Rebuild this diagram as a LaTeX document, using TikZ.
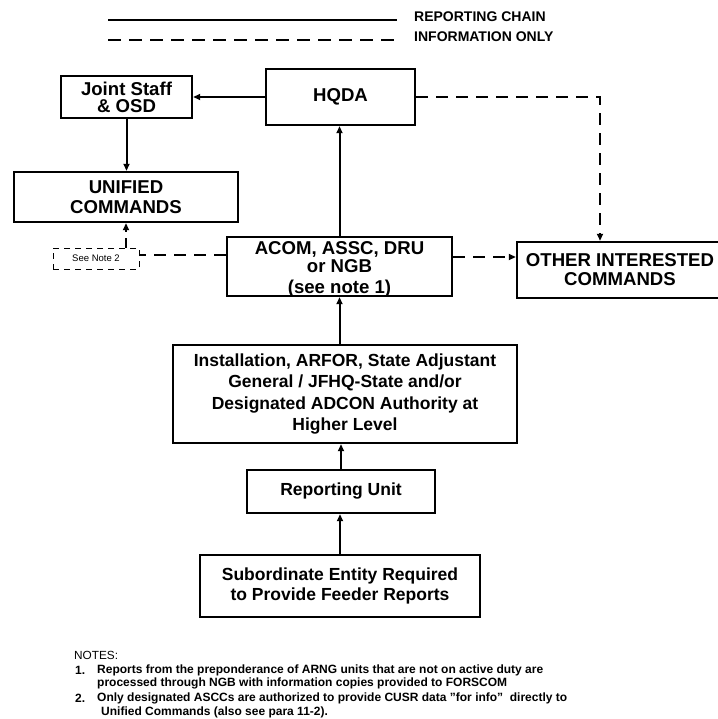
\documentclass[tikz,border=0pt]{standalone}
\usepackage{fontspec}
\setmainfont{Liberation Sans}
\usetikzlibrary{arrows.meta}
\begin{document}
\begin{tikzpicture}[x=1pt,y=-1pt,
  box/.style={draw, line width=2.4pt, align=center, inner sep=0pt,
    font=\bfseries\fontsize{17.5}{21.5}\selectfont},
  bigbox/.style={box, font=\bfseries\fontsize{18.6}{21.5}\selectfont},
  rep/.style={line width=2pt, -{Triangle[length=7pt,width=6pt]}},
  infoline/.style={line width=2pt, dash pattern=on 12pt off 8pt},
  info/.style={infoline, -{Triangle[length=7pt,width=6pt]}},
  legendtext/.style={anchor=west, inner sep=0pt, font=\bfseries\fontsize{14}{16}\selectfont},
  notetext/.style={anchor=west, inner sep=0pt, font=\bfseries\fontsize{12}{13}\selectfont},
]
\useasboundingbox (0,0) rectangle (717,719);

% legend
\coordinate (la) at (108,20);
\coordinate (lb) at (397,20);
\coordinate (lc) at (108,40);
\coordinate (ld) at (397,40);
\draw[line width=2pt] (la) -- (lb);
\draw[infoline, dash pattern=on 13pt off 8pt] (lc) -- (ld);
\node[legendtext] (lt1) at (414,17) {REPORTING CHAIN};
\node[legendtext] (lt2) at (414,37) {INFORMATION ONLY};

% boxes
\node[bigbox, minimum width=131pt, minimum height=42pt] (js) at (126.5,97) {Joint Staff\\[-4.5pt]\& OSD};
\node[bigbox, minimum width=149pt, minimum height=56pt] (hqda) at (340.5,97) {HQDA};
\node[bigbox, minimum width=224pt, minimum height=50pt] (uc) at (126,197) {UNIFIED\\[-1.5pt]COMMANDS};
\node[bigbox, minimum width=225pt, minimum height=59pt] (acom) at (339.5,266.5) {};
\node[align=center, inner sep=0pt, font=\bfseries\fontsize{18.6}{21.5}\selectfont] (acomtext) at (339.5,269.5) {ACOM, ASSC, DRU\\[-3.5pt]or NGB\\[0pt](see note 1)};
\node[bigbox, minimum width=206pt, minimum height=56pt] (other) at (620,270) {OTHER INTERESTED\\[-2.5pt]COMMANDS};
\node[box, minimum width=344pt, minimum height=98pt] (inst) at (345,394) {Installation, ARFOR, State Adjustant\\General / JFHQ-State and/or\\Designated ADCON Authority at\\Higher Level};
\node[box, minimum width=188pt, minimum height=43pt] (ru) at (341,491.5) {Reporting Unit};
\node[box, minimum width=280pt, minimum height=62pt] (sub) at (340,586) {Subordinate Entity Required\\[-1.5pt]to Provide Feeder Reports};
\node[draw, line width=0.8pt, dash pattern=on 6pt off 5pt, minimum width=86pt, minimum height=21pt,
  inner sep=0pt, font=\fontsize{9.5}{10}\selectfont] (n2) at (96,258.5) {See Note 2};

% reporting chain
\draw[rep] (hqda.west) -- (hqda.west -| js.east);
\draw[rep] (js.south) -- (js.south |- uc.north);
\draw[rep] (acom.north) -- (acom.north |- hqda.south);
\draw[rep] (acom.south |- inst.north) -- (acom.south);
\draw[rep] (ru.north) -- (ru.north |- inst.south);
\draw[rep] (sub.north) -- (sub.north |- ru.south);

% information only
\draw[info] (hqda.east) -| ([xshift=-20pt]other.north);
\draw[info] ([yshift=9.5pt]acom.east) -- ([yshift=9.5pt]acom.east -| other.west);
\draw[infoline] ([yshift=11.5pt]acom.west) -- ([yshift=11.5pt]acom.west -| n2.east);
\draw[info, dash pattern=on 10pt off 6pt] (n2.north -| uc.south) -- (uc.south);

% notes
\node[anchor=west, inner sep=0pt, font=\fontsize{11.8}{13}\selectfont] (notes) at (74,655) {NOTES:};
\node[notetext] (k1) at (75,670) {1.};
\node[notetext] (t1a) at (97,670) {Reports from the preponderance of ARNG units that are not on active duty are};
\node[notetext] (t1b) at (97,683) {processed through NGB with information copies provided to FORSCOM};
\node[notetext] (k2) at (75,698) {2.};
\node[notetext] (t2a) at (97,698) {Only designated ASCCs are authorized to provide CUSR data \symbol{34}for info\symbol{34}\ \ directly to};
\node[notetext] (t2b) at (101,712) {Unified Commands (also see para 11-2).};
\end{tikzpicture}
\end{document}
